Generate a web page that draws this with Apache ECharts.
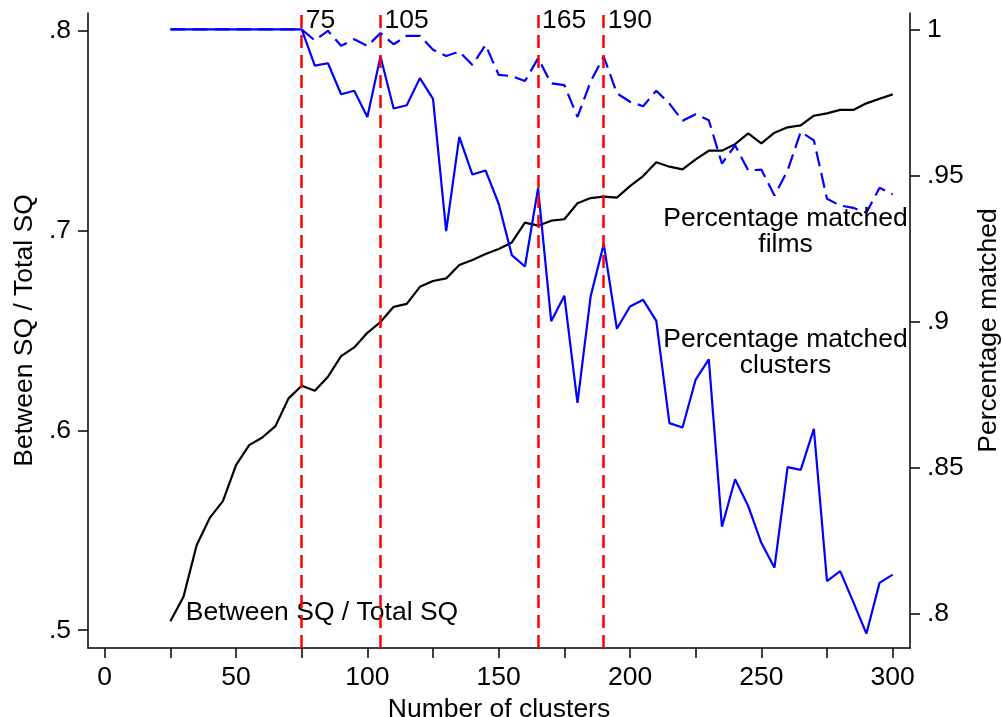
<!DOCTYPE html>
<html>
<head>
<meta charset="utf-8">
<title>Clusters: explained variance and match rates</title>
<script src="https://cdn.jsdelivr.net/npm/echarts@6/dist/echarts.min.js"></script>
<style>
  html, body { margin: 0; padding: 0; background: #fff; }
  #chart { width: 1002px; height: 717px; }
</style>
</head>
<body>
<div id="chart"></div>
<script>
// Number of clusters (k) evaluated, every 5 from 25 to 300
const clusters = [25, 30, 35, 40, 45, 50, 55, 60, 65, 70, 75, 80, 85, 90, 95, 100,
  105, 110, 115, 120, 125, 130, 135, 140, 145, 150, 155, 160, 165, 170, 175, 180,
  185, 190, 195, 200, 205, 210, 215, 220, 225, 230, 235, 240, 245, 250, 255, 260,
  265, 270, 275, 280, 285, 290, 295, 300];

// Between-cluster SQ as a share of total SQ (left axis)
const betweenShare = [0.5045, 0.5167, 0.5425, 0.5562, 0.5646, 0.5826, 0.5926, 0.5964,
  0.6021, 0.6160, 0.6223, 0.6198, 0.6268, 0.6371, 0.6415, 0.6488, 0.6542, 0.6618,
  0.6633, 0.6718, 0.6747, 0.6760, 0.6827, 0.6852, 0.6882, 0.6907, 0.6940, 0.7039,
  0.7024, 0.7049, 0.7056, 0.7136, 0.7162, 0.7169, 0.7164, 0.7222, 0.7272, 0.7341,
  0.7319, 0.7306, 0.7356, 0.7399, 0.7399, 0.7432, 0.7486, 0.7436, 0.7489, 0.7516,
  0.7526, 0.7574, 0.7586, 0.7603, 0.7603, 0.7636, 0.7659, 0.7681];

// Share of films matched (right axis)
const matchedFilms = [1, 1, 1, 1, 1, 1, 1, 1, 1, 1, 1, 0.9962, 0.9995, 0.9944, 0.9966,
  0.9943, 0.9987, 0.9949, 0.9978, 0.9978, 0.9930, 0.9909, 0.9924, 0.9878, 0.9947,
  0.9844, 0.9840, 0.9823, 0.9901, 0.9815, 0.9809, 0.9700, 0.9821, 0.9907, 0.9781,
  0.9752, 0.9737, 0.9790, 0.9746, 0.9687, 0.9709, 0.9689, 0.9540, 0.9603, 0.9517,
  0.9520, 0.9431, 0.9517, 0.9649, 0.9620, 0.9420, 0.9397, 0.9389, 0.9372, 0.9458,
  0.9435];

// Share of clusters matched (right axis)
const matchedClusters = [1, 1, 1, 1, 1, 1, 1, 1, 1, 1, 1, 0.9876, 0.9884, 0.9778,
  0.9790, 0.9700, 0.9907, 0.9729, 0.9740, 0.9833, 0.9762, 0.9309, 0.9632, 0.9503,
  0.9517, 0.9403, 0.9227, 0.9188, 0.9456, 0.9001, 0.9088, 0.8721, 0.9085, 0.9265,
  0.8975, 0.9051, 0.9074, 0.9002, 0.8652, 0.8637, 0.8801, 0.8870, 0.8297, 0.8460,
  0.8368, 0.8242, 0.8157, 0.8501, 0.8492, 0.8632, 0.8111, 0.8145, 0.8040, 0.7931,
  0.8105, 0.8133];

// Candidate numbers of clusters marked with vertical reference lines
const markedK = [75, 105, 165, 190];

// Tick positions and labels
const xTicks = [0, 25, 50, 75, 100, 125, 150, 175, 200, 225, 250, 275, 300];
const xLabels = [0, 50, 100, 150, 200, 250, 300];
const leftTicks = [0.5, 0.6, 0.7, 0.8];
const rightTicks = [0.8, 0.85, 0.9, 0.95, 1];

const FONT = '"Liberation Sans", Arial, Helvetica, sans-serif';
const FS = 26.5;

const pairs = vals => clusters.map((k, i) => [k, vals[i]]);
const shortNum = v => (v === 1 ? '1' : String(+v.toFixed(2)).replace(/^0/, ''));

const axisLine = { show: true, onZero: false, lineStyle: { color: '#000', width: 1.5 } };
const axisTickStyle = { lineStyle: { color: '#000', width: 1.5 }, length: 10, inside: false };
const labelStyle = { color: '#000', fontSize: FS, fontFamily: FONT };

const chart = echarts.init(document.getElementById('chart'), null, { renderer: 'canvas' });

chart.setOption({
  animation: false,
  backgroundColor: '#fff',
  textStyle: { fontFamily: FONT, color: '#000' },
  grid: { left: 88, right: 92, top: 13, bottom: 69, containLabel: false, outerBoundsMode: 'none' },
  xAxis: {
    type: 'value',
    min: -6.36,
    max: 306.6,
    name: 'Number of clusters',
    nameLocation: 'middle',
    nameGap: 41,
    nameTextStyle: labelStyle,
    axisLine: axisLine,
    axisTick: Object.assign({ customValues: xTicks }, axisTickStyle),
    axisLabel: Object.assign({ customValues: xLabels, margin: 16, formatter: v => String(v) }, labelStyle),
    splitLine: { show: false }
  },
  yAxis: [
    {
      type: 'value',
      position: 'left',
      min: 0.4911,
      max: 0.8088,
      name: 'Between SQ / Total SQ',
      nameLocation: 'middle',
      nameRotate: 90,
      nameGap: 50,
      nameTextStyle: labelStyle,
      axisLine: axisLine,
      axisTick: Object.assign({ customValues: leftTicks }, axisTickStyle),
      axisLabel: Object.assign({ customValues: leftTicks, margin: 17, formatter: shortNum }, labelStyle),
      splitLine: { show: false }
    },
    {
      type: 'value',
      position: 'right',
      min: 0.7882,
      max: 1.0056,
      name: 'Percentage matched',
      nameLocation: 'middle',
      nameRotate: 90,
      nameGap: 63,
      nameTextStyle: labelStyle,
      axisLine: axisLine,
      axisTick: Object.assign({ customValues: rightTicks }, axisTickStyle),
      axisLabel: Object.assign({ customValues: rightTicks, margin: 17, formatter: shortNum }, labelStyle),
      splitLine: { show: false }
    }
  ],
  series: [
    {
      name: 'Between SQ / Total SQ',
      type: 'line',
      yAxisIndex: 0,
      data: pairs(betweenShare),
      showSymbol: false,
      symbol: 'none',
      lineStyle: { color: '#000', width: 2.2 },
      z: 3,
      markLine: {
        silent: true,
        symbol: 'none',
        z: 10,
        label: { show: false },
        lineStyle: { color: '#ff0000', width: 2.5, type: [13, 7] },
        data: markedK.map(k => ({ xAxis: k }))
      },
      markPoint: {
        silent: true,
        symbol: 'circle',
        symbolSize: 0,
        data: markedK.map(k => ({
          coord: [k, 0.8048],
          label: { show: true, position: 'right', distance: 4, formatter: String(k),
                   color: '#000', fontSize: FS, fontFamily: FONT }
        })).concat([{
          coord: [30.85, 0.5088],
          label: { show: true, position: 'right', distance: 0, formatter: 'Between SQ / Total SQ',
                   color: '#000', fontSize: FS, fontFamily: FONT }
        }])
      }
    },
    {
      name: 'Percentage matched films',
      type: 'line',
      yAxisIndex: 1,
      data: pairs(matchedFilms),
      showSymbol: false,
      symbol: 'none',
      lineStyle: { color: '#0000ff', width: 2.2, type: [15, 7] },
      z: 4,
      markPoint: {
        silent: true,
        symbol: 'circle',
        symbolSize: 0,
        data: [{
          coord: [259.2, 0.9309],
          label: { show: true, position: 'inside', align: 'center', verticalAlign: 'middle',
                   formatter: 'Percentage matched\nfilms', lineHeight: 26,
                   color: '#000', fontSize: FS, fontFamily: FONT }
        }]
      }
    },
    {
      name: 'Percentage matched clusters',
      type: 'line',
      yAxisIndex: 1,
      data: pairs(matchedClusters),
      showSymbol: false,
      symbol: 'none',
      lineStyle: { color: '#0000ff', width: 2.2 },
      z: 5,
      markPoint: {
        silent: true,
        symbol: 'circle',
        symbolSize: 0,
        data: [{
          coord: [259.2, 0.8893],
          label: { show: true, position: 'inside', align: 'center', verticalAlign: 'middle',
                   formatter: 'Percentage matched\nclusters', lineHeight: 26,
                   color: '#000', fontSize: FS, fontFamily: FONT }
        }]
      }
    }
  ]
});
</script>
</body>
</html>
